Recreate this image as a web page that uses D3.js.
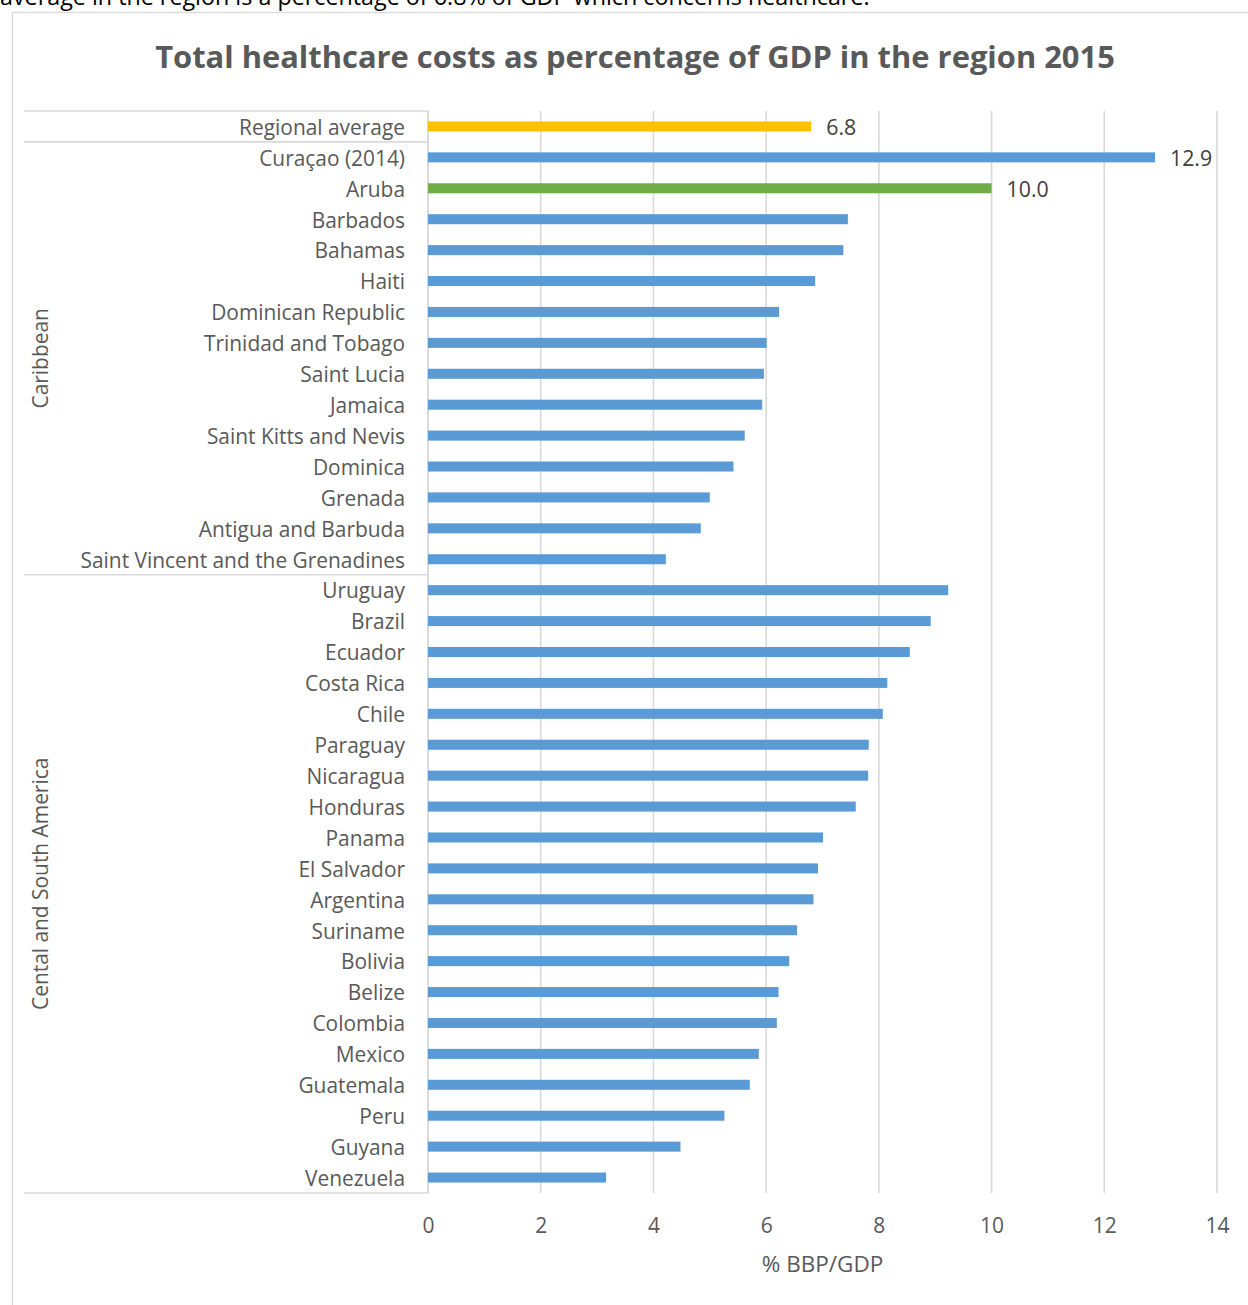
<!DOCTYPE html>
<html>
<head>
<meta charset="utf-8">
<script src="https://cdn.jsdelivr.net/npm/d3@7"></script>
<style>
  html, body { margin: 0; padding: 0; background: #fff; }
  svg { display: block; }
  text { font-family: "Open Sans", "Noto Sans", sans-serif; }
</style>
</head>
<body>
<svg id="chart" width="1248" height="1305"></svg>
<script>
// ---- Data ----
const categories = [
  "Regional average",
  "Curaçao (2014)", "Aruba", "Barbados", "Bahamas", "Haiti", "Dominican Republic",
  "Trinidad and Tobago", "Saint Lucia", "Jamaica", "Saint Kitts and Nevis", "Dominica",
  "Grenada", "Antigua and Barbuda", "Saint Vincent and the Grenadines",
  "Uruguay", "Brazil", "Ecuador", "Costa Rica", "Chile", "Paraguay", "Nicaragua",
  "Honduras", "Panama", "El Salvador", "Argentina", "Suriname", "Bolivia", "Belize",
  "Colombia", "Mexico", "Guatemala", "Peru", "Guyana", "Venezuela"
];
const values = [
  6.8,
  12.9, 10.0, 7.45, 7.37, 6.87, 6.23,
  6.01, 5.96, 5.93, 5.62, 5.42,
  5.0, 4.84, 4.22,
  9.23, 8.92, 8.55, 8.15, 8.07, 7.82, 7.81,
  7.59, 7.01, 6.92, 6.84, 6.55, 6.41, 6.22,
  6.19, 5.87, 5.71, 5.26, 4.48, 3.16
];
const highlight = { "Regional average": "average", "Aruba": "aruba" };
const labelled = { "Regional average": "6.8", "Curaçao (2014)": "12.9", "Aruba": "10.0" };
const groups = [
  { name: "", first: "Regional average", last: "Regional average" },
  { name: "Caribbean", first: "Curaçao (2014)", last: "Saint Vincent and the Grenadines" },
  { name: "Cental and South America", first: "Uruguay", last: "Venezuela" }
];
const xTicks = [0, 2, 4, 6, 8, 10, 12, 14];
const title = "Total healthcare costs as percentage of GDP in the region 2015";
const xTitle = "% BBP/GDP";
const topText = "average in the region is a percentage of 6.8% of GDP which concerns healthcare.";

// ---- Layout ----
const svg = d3.select("#chart");
const pLeft = 428, pRight = 1217, pTop = 111, pBottom = 1193;
const colors = { average: "#ffc000", aruba: "#70ad47", normal: "#5b9bd5" };
const grid = "#d9d9d9";
const labelSize = 20.9;

const x = d3.scaleLinear().domain([0, 14]).range([pLeft, pRight]);
const y = d3.scaleBand().domain(categories).range([pTop, pBottom])
  .paddingInner(0.676).paddingOuter(0.338);

// top cropped text (cut off by the page edge, as in the source)
svg.append("text").attr("x", 0).attr("y", 5)
  .attr("font-size", 23.3).attr("fill", "#000").text(topText);

// outer chart frame
svg.append("rect").attr("x", 12.5).attr("y", 12.5).attr("width", 1260).attr("height", 1320)
  .attr("fill", "none").attr("stroke", grid).attr("stroke-width", 1.3);

// title
svg.append("text").attr("x", 635).attr("y", 68).attr("text-anchor", "middle")
  .attr("font-size", 30.9).attr("font-weight", "bold").attr("fill", "#595959").text(title);

// gridlines
svg.append("g").selectAll("line").data(xTicks).join("line")
  .attr("x1", d => x(d)).attr("x2", d => x(d))
  .attr("y1", pTop).attr("y2", pBottom)
  .attr("stroke", grid).attr("stroke-width", 1.6);

// category frame lines
const step = y.step();
const boundaries = [pTop];
groups.forEach(g => boundaries.push(y(g.last) - y.paddingInner() * step / 2 + step));
svg.append("g").selectAll("line").data(boundaries).join("line")
  .attr("x1", 24).attr("x2", pLeft)
  .attr("y1", d => d).attr("y2", d => d)
  .attr("stroke", grid).attr("stroke-width", 1.6);
svg.append("line").attr("x1", pLeft).attr("x2", pLeft).attr("y1", pTop).attr("y2", pBottom)
  .attr("stroke", grid).attr("stroke-width", 1.6);

// group labels
groups.forEach(g => {
  if (!g.name) return;
  const y0 = y(g.first) - y.paddingInner() * step / 2;
  const y1 = y(g.last) - y.paddingInner() * step / 2 + step;
  const cy = (y0 + y1) / 2;
  svg.append("text")
    .attr("transform", `translate(48,${cy}) rotate(-90)`)
    .attr("text-anchor", "middle").attr("font-size", labelSize).attr("fill", "#595959")
    .text(g.name);
});

// bars
svg.append("g").selectAll("rect").data(categories).join("rect")
  .attr("x", x(0)).attr("y", d => y(d))
  .attr("width", (d, i) => x(values[i]) - x(0))
  .attr("height", y.bandwidth())
  .attr("fill", d => colors[highlight[d] || "normal"]);

// category labels
svg.append("g").selectAll("text").data(categories).join("text")
  .attr("x", 405).attr("y", d => y(d) + y.bandwidth() / 2 + 1)
  .attr("dy", "0.35em").attr("text-anchor", "end")
  .attr("font-size", labelSize).attr("fill", "#595959").text(d => d);

// data labels
svg.append("g").selectAll("text").data(categories.filter(d => labelled[d])).join("text")
  .attr("x", d => x(values[categories.indexOf(d)]) + 15)
  .attr("y", d => y(d) + y.bandwidth() / 2 + 1)
  .attr("dy", "0.35em").attr("font-size", 21.3).attr("fill", "#404040")
  .text(d => labelled[d]);

// x axis
const xAxis = d3.axisBottom(x).tickValues(xTicks).tickSize(0).tickPadding(0);
const ax = svg.append("g").attr("transform", `translate(0,${pBottom})`).call(xAxis);
ax.select(".domain").remove();
ax.selectAll("text").attr("y", 33).attr("dy", "0.35em")
  .attr("font-size", 21).attr("fill", "#595959")
  .style("font-family", '"Open Sans", "Noto Sans", sans-serif');

svg.append("text").attr("x", (pLeft + pRight) / 2).attr("y", 1264).attr("dy", "0.35em")
  .attr("text-anchor", "middle").attr("font-size", 22.5).attr("fill", "#595959").text(xTitle);
</script>
</body>
</html>
